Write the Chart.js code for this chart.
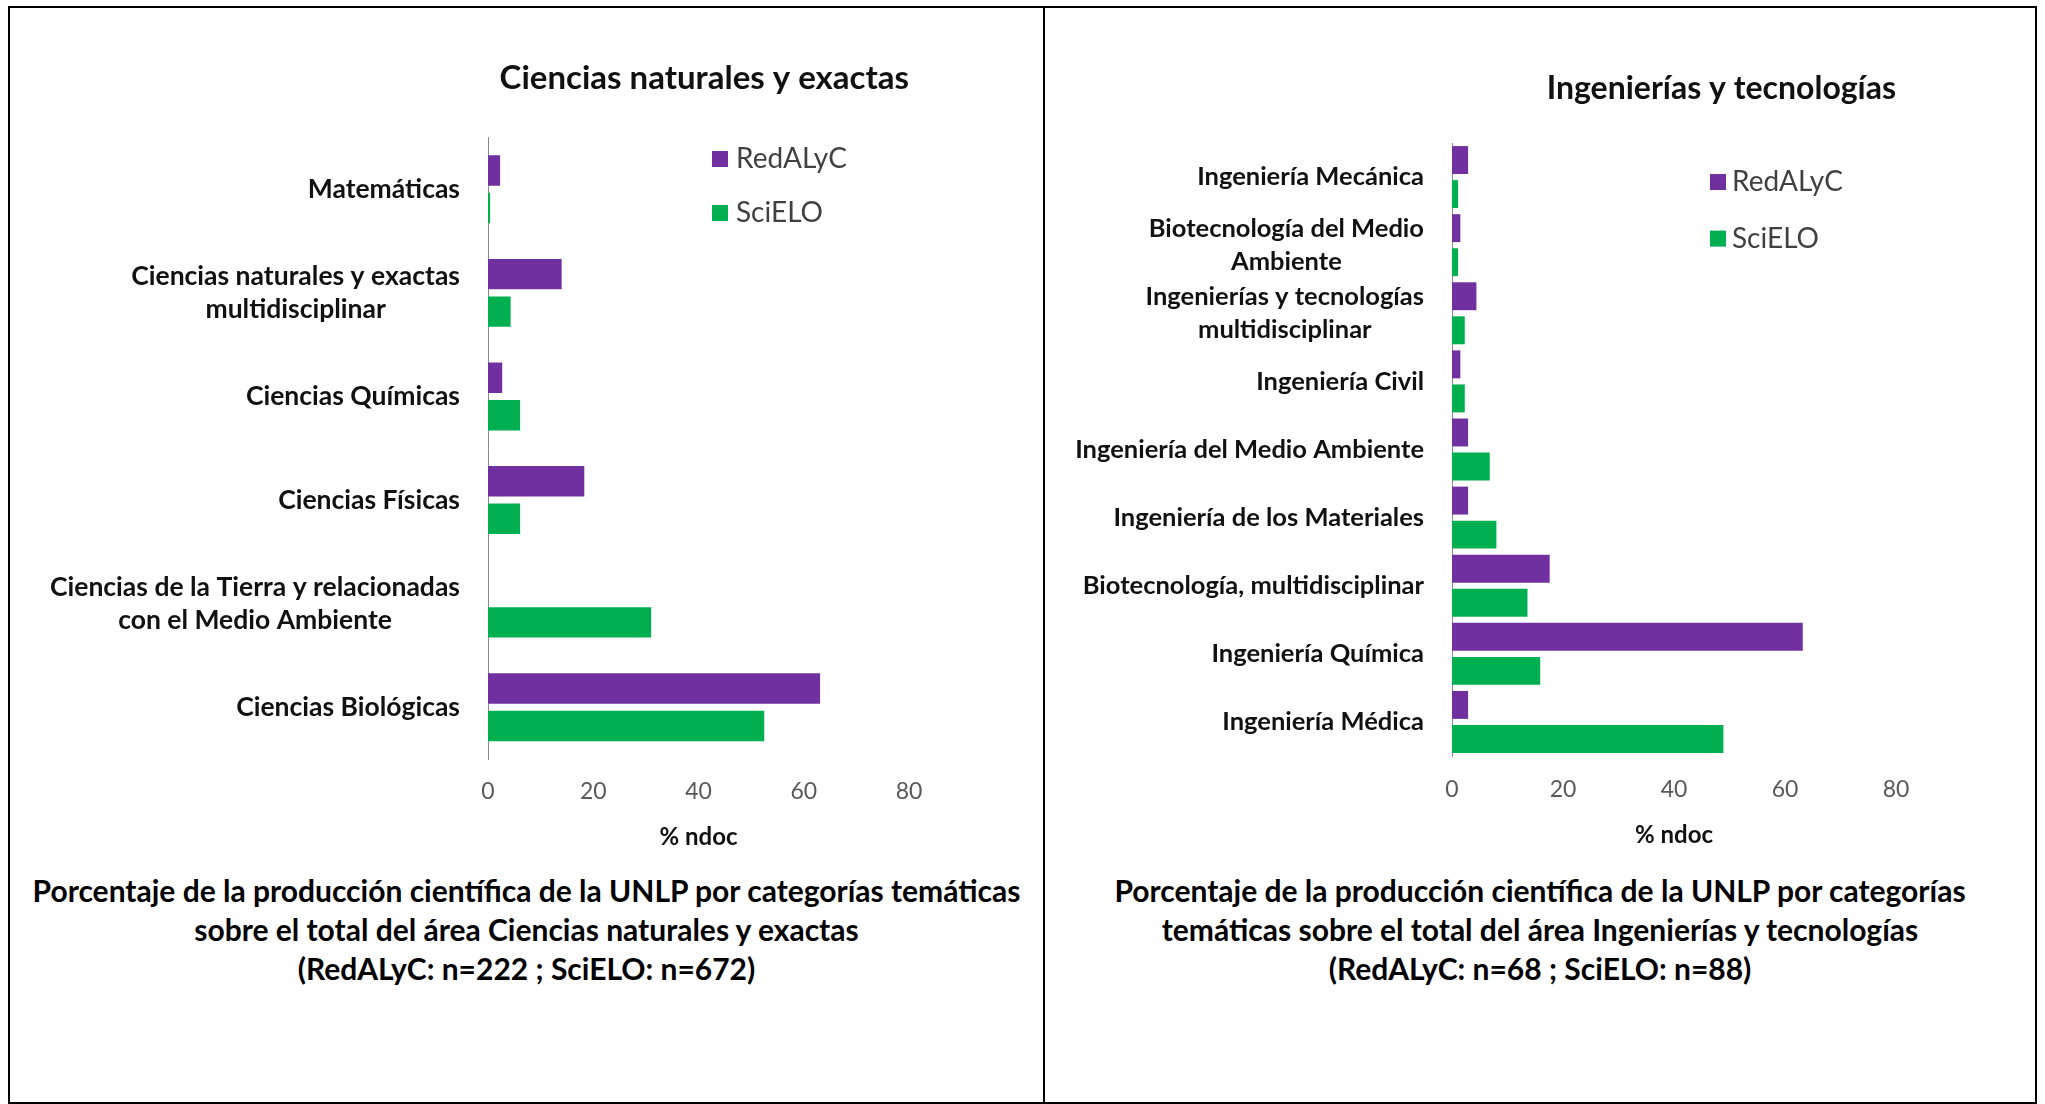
<!DOCTYPE html>
<html><head><meta charset="utf-8">
<script src="https://cdn.jsdelivr.net/npm/chart.js@4.4.0/dist/chart.umd.min.js"></script>
<style>
html,body{margin:0;padding:0;background:#fff;width:2045px;height:1104px;overflow:hidden;font-family:Lato,sans-serif;}
#frame{position:absolute;left:8px;top:6px;width:2029px;height:1098px;border:2px solid #000;box-sizing:border-box;}
#divider{position:absolute;left:1043px;top:6px;width:2px;height:1098px;background:#000;}
canvas{position:absolute;}
#c1{left:10px;top:8px;}
#c2{left:1045px;top:8px;}
.caption{position:absolute;top:871px;text-align:center;font-weight:bold;font-size:30px;line-height:39px;color:#000;white-space:nowrap;}
#cap1{left:10px;width:1033px;}
#cap2{left:1045px;width:990px;}
</style></head>
<body>
<div id="frame"></div><div id="divider"></div>
<canvas id="c1" width="1033" height="851"></canvas>
<canvas id="c2" width="990" height="851"></canvas>
<div class="caption" id="cap1"></div>
<div class="caption" id="cap2"></div>
<script>
// ---- data ----
const seriesNames = ['RedALyC', 'SciELO'];
const xTicksMax = 80;
const xTitle = '% ndoc';

const leftTitle = 'Ciencias naturales y exactas';
const leftCategories = [
  'Matemáticas',
  ['Ciencias naturales y exactas', 'multidisciplinar'],
  'Ciencias Químicas',
  'Ciencias Físicas',
  ['Ciencias de la Tierra y relacionadas', 'con el Medio Ambiente'],
  'Ciencias Biológicas'
];
const leftRedalyc = [2.3, 14.0, 2.7, 18.3, 0, 63.1];
const leftScielo  = [0.4, 4.3, 6.1, 6.1, 31.0, 52.5];
const leftCaption = [
  'Porcentaje de la producción científica de la UNLP por categorías temáticas',
  'sobre el total del área Ciencias naturales y exactas',
  '(RedALyC: n=222 ; SciELO: n=672)'
];

const rightTitle = 'Ingenierías y tecnologías';
const rightCategories = [
  'Ingeniería Mecánica',
  ['Biotecnología del Medio', 'Ambiente'],
  ['Ingenierías y tecnologías', 'multidisciplinar'],
  'Ingeniería Civil',
  'Ingeniería del Medio Ambiente',
  'Ingeniería de los Materiales',
  'Biotecnología, multidisciplinar',
  'Ingeniería Química',
  'Ingeniería Médica'
];
const rightRedalyc = [2.9, 1.5, 4.4, 1.5, 2.9, 2.9, 17.6, 63.2, 2.9];
const rightScielo  = [1.1, 1.1, 2.3, 2.3, 6.8, 8.0, 13.6, 15.9, 48.9];
const rightCaption = [
  'Porcentaje de la producción científica de la UNLP por categorías',
  'temáticas sobre el total del área Ingenierías y tecnologías',
  '(RedALyC: n=68 ; SciELO: n=88)'
];

const colors = ['#7030A0', '#00B050'];

// ---- plugins ----
const catLabelPlugin = {
  id: 'catLabels',
  afterDraw(chart, args, opts) {
    const ys = chart.scales.y, ctx = chart.ctx;
    ctx.save();
    ctx.font = 'bold ' + opts.size + 'px Lato';
    ctx.fillStyle = opts.color;
    ctx.textBaseline = 'middle';
    ctx.textAlign = 'center';
    const xRight = chart.chartArea.left - opts.gap;
    chart.data.labels.forEach((lab, i) => {
      const lines = Array.isArray(lab) ? lab : [lab];
      const w = Math.max(...lines.map(l => ctx.measureText(l).width));
      const cy = ys.getPixelForTick(i) + (opts.dy || 0);
      const y0 = cy - (lines.length - 1) * opts.lineHeight / 2;
      lines.forEach((l, k) => ctx.fillText(l, xRight - w / 2, y0 + k * opts.lineHeight));
    });
    ctx.restore();
  }
};
const legendPlugin = {
  id: 'sideLegend',
  afterDraw(chart, args, opts) {
    const ca = chart.chartArea, ctx = chart.ctx;
    ctx.save();
    chart.data.datasets.forEach((ds, i) => {
      const cy = ca.top + opts.dy + i * opts.rowGap;
      ctx.fillStyle = ds.backgroundColor;
      ctx.fillRect(ca.left + opts.dx, cy - opts.box / 2, opts.box, opts.box);
      ctx.fillStyle = opts.color;
      ctx.font = opts.size + 'px Lato';
      ctx.textBaseline = 'middle';
      ctx.textAlign = 'left';
      ctx.fillText(ds.label, ca.left + opts.dx + opts.box + opts.textGap, cy);
    });
    ctx.restore();
  }
};

function makeChart(id, cfg) {
  return new Chart(document.getElementById(id), {
    type: 'bar',
    data: {
      labels: cfg.labels,
      datasets: [
        {label: seriesNames[0], data: cfg.red, backgroundColor: colors[0], categoryPercentage: cfg.catPct, barPercentage: cfg.barPct},
        {label: seriesNames[1], data: cfg.sci, backgroundColor: colors[1], categoryPercentage: cfg.catPct, barPercentage: cfg.barPct}
      ]
    },
    options: {
      indexAxis: 'y',
      responsive: false,
      animation: false,
      devicePixelRatio: 1,
      layout: {padding: {left: 0, right: cfg.padRight, top: 0, bottom: 0}},
      plugins: {
        legend: {display: false},
        tooltip: {enabled: false},
        title: {
          display: true, text: cfg.title, align: 'end', fullSize: false, color: '#111',
          font: {family: 'Lato', size: cfg.titleSize, weight: 'bold', lineHeight: 1.2},
          padding: {top: cfg.titleTop, bottom: cfg.titleBottom}
        },
        catLabels: {size: cfg.labelSize, color: '#111', lineHeight: 33, gap: 28},
        sideLegend: {dx: cfg.legDx, dy: cfg.legDy, rowGap: cfg.legGap, box: 16, textGap: cfg.legTextGap, size: 28, color: '#404040'}
      },
      scales: {
        x: {
          min: 0, max: xTicksMax,
          ticks: {stepSize: 20, color: '#595959', font: {family: 'Lato', size: 23}, padding: cfg.tickPad},
          grid: {display: false, drawTicks: false},
          border: {display: false},
          title: {display: true, text: xTitle, color: '#111', font: {family: 'Lato', size: 24, weight: 'bold', lineHeight: 1.2}, padding: {top: 0, bottom: cfg.xTitlePadB}},
          afterFit: s => { s.height = cfg.xHeight; }
        },
        y: {
          grid: {display: false, drawTicks: false},
          border: {display: true, color: '#8a8a8a', width: 1},
          ticks: {display: false},
          afterFit: s => { s.width = cfg.yWidth; }
        }
      }
    },
    plugins: [catLabelPlugin, legendPlugin]
  });
}

makeChart('c1', {
  labels: leftCategories, red: leftRedalyc, sci: leftScielo, title: leftTitle,
  catPct: 0.724, barPct: 0.81, padRight: 134, yWidth: 478,
  titleSize: 33, titleTop: 50.8, titleBottom: 39.1, labelSize: 26.5,
  xHeight: 100, tickPad: 19, xTitlePadB: 7.6,
  legDx: 224, legDy: 21.5, legGap: 54, legTextGap: 8
});
makeChart('c2', {
  labels: rightCategories, red: rightRedalyc, sci: rightScielo, title: rightTitle,
  catPct: 1.0, barPct: 0.82, padRight: 139, yWidth: 407,
  titleSize: 32, titleTop: 61.8, titleBottom: 34.8, labelSize: 25.5,
  xHeight: 103, tickPad: 20, xTitlePadB: 9.6,
  legDx: 258, legDy: 39, legGap: 56.6, legTextGap: 6
});

document.getElementById('cap1').innerHTML = leftCaption.map(s => '<div>' + s + '</div>').join('');
document.getElementById('cap2').innerHTML = rightCaption.map(s => '<div>' + s + '</div>').join('');
</script>
</body></html>
